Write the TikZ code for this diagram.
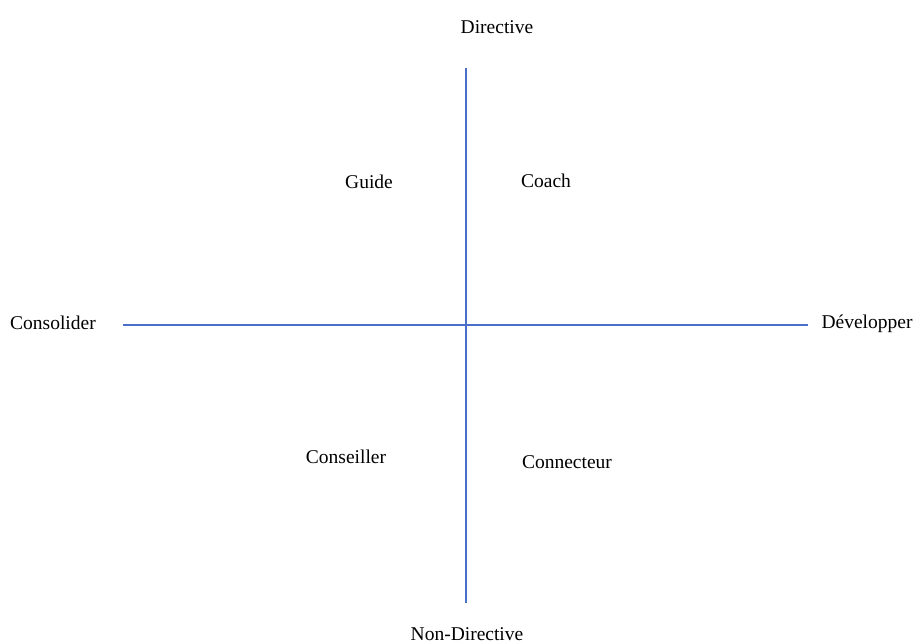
\documentclass[tikz,border=0pt]{standalone}
\usepackage{fontspec}
\setmainfont{Liberation Serif}
\definecolor{axisblue}{HTML}{4A6FC8}
\begin{document}
\begin{tikzpicture}[x=1pt,y=-1pt,
  lbl/.style={font=\fontsize{19.5}{22}\selectfont, inner sep=0pt, text=black},
  axis/.style={draw=axisblue, line width=1.1pt}]
\useasboundingbox (0,0) rectangle (918,643);
\coordinate (top) at (466,68);
\coordinate (bot) at (466,603);
\coordinate (left) at (123,325);
\coordinate (right) at (808,325);
\draw[axis] (top) -- (bot);
\draw[axis] (left) -- (right);
\node[lbl] (dir) at (497,27) {Directive};
\node[lbl] (nondir) at (467,634) {Non-Directive};
\node[lbl] (cons) at (53,323) {Consolider};
\node[lbl] (dev) at (867,324) {Développer};
\node[lbl] (guide) at (369,182) {Guide};
\node[lbl] (coach) at (546,181) {Coach};
\node[lbl] (conseiller) at (346,457) {Conseiller};
\node[lbl] (connecteur) at (567,462) {Connecteur};
\end{tikzpicture}
\end{document}
